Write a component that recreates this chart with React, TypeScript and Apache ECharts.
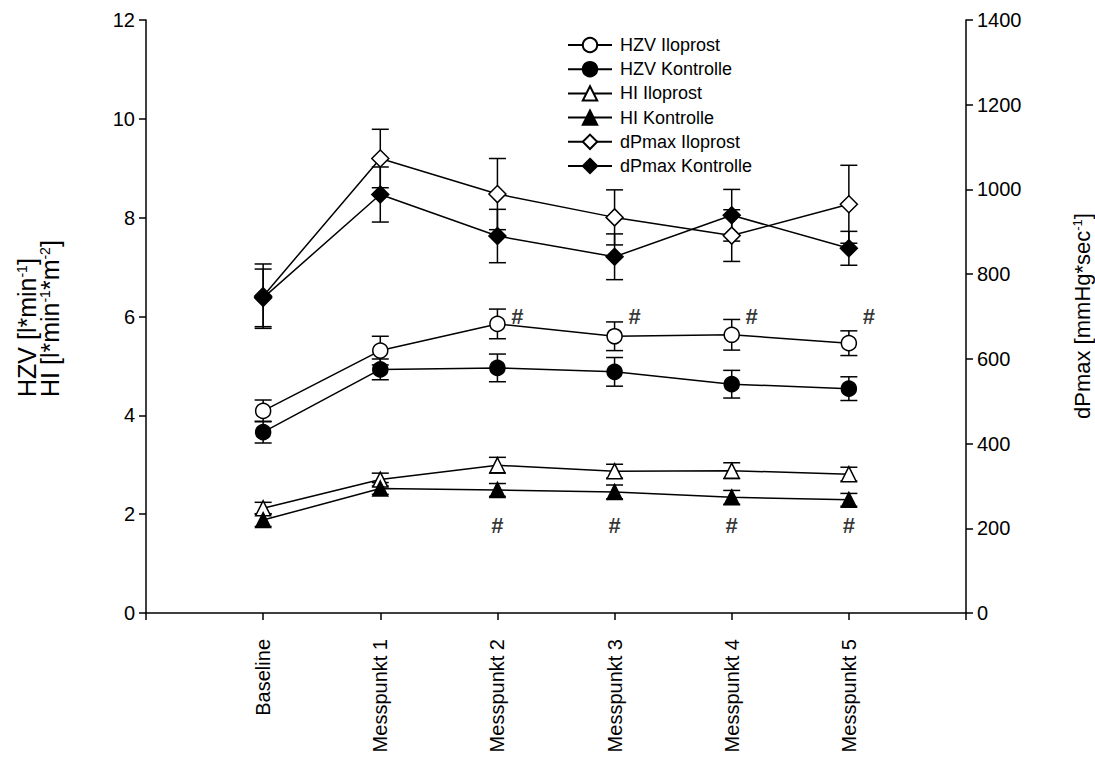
import React, { useEffect, useRef } from 'react';
import * as echarts from 'echarts';

// x categories (empty padding slots at both ends of the axis)
const categories = ['', 'Baseline', 'Messpunkt 1', 'Messpunkt 2', 'Messpunkt 3', 'Messpunkt 4', 'Messpunkt 5', ''];

// left axis: HZV / HI
const hzvIloprost = [4.09, 5.31, 5.85, 5.6, 5.63, 5.46];
const hzvIloprostErr = [0.22, 0.29, 0.3, 0.29, 0.31, 0.25];
const hzvKontrolle = [3.66, 4.93, 4.96, 4.88, 4.63, 4.54];
const hzvKontrolleErr = [0.22, 0.21, 0.28, 0.29, 0.28, 0.24];
const hiIloprost = [2.12, 2.7, 2.99, 2.87, 2.88, 2.81];
const hiIloprostErr = [0.12, 0.13, 0.16, 0.14, 0.16, 0.14];
const hiKontrolle = [1.88, 2.52, 2.49, 2.45, 2.34, 2.29];
const hiKontrolleErr = [0.13, 0.12, 0.13, 0.14, 0.14, 0.13];

// right axis: dPmax
const dpIloprost = [748, 1073, 989, 934, 891, 965];
const dpIloprostErr = [76, 69, 84, 65, 61, 92];
const dpKontrolle = [744, 988, 890, 841, 939, 861];
const dpKontrolleErr = [68, 65, 63, 54, 61, 40];

// significance marks "#" (value on left axis where the mark sits)
const sigUpper = [null, null, 6.0, 6.0, 6.0, 6.0];
const sigLower = [null, null, 1.78, 1.78, 1.78, 1.78];

const leftAxis = { min: 0, max: 12, interval: 2 };
const rightAxis = { min: 0, max: 1400, interval: 200 };

const FONT = 'Liberation Sans, Arial, sans-serif';

type Def = { name: string; values: number[]; err: number[]; symbol: string; filled: boolean; axis: number; size: number };

const defs: Def[] = [
  { name: 'HZV Iloprost', values: hzvIloprost, err: hzvIloprostErr, symbol: 'circle', filled: false, axis: 0, size: 15 },
  { name: 'HZV Kontrolle', values: hzvKontrolle, err: hzvKontrolleErr, symbol: 'circle', filled: true, axis: 0, size: 15 },
  { name: 'HI Iloprost', values: hiIloprost, err: hiIloprostErr, symbol: 'triangle', filled: false, axis: 0, size: 15 },
  { name: 'HI Kontrolle', values: hiKontrolle, err: hiKontrolleErr, symbol: 'triangle', filled: true, axis: 0, size: 15 },
  { name: 'dPmax Iloprost', values: dpIloprost, err: dpIloprostErr, symbol: 'diamond', filled: false, axis: 1, size: 17 },
  { name: 'dPmax Kontrolle', values: dpKontrolle, err: dpKontrolleErr, symbol: 'diamond', filled: true, axis: 1, size: 17 },
];

function errorSeries(d: Def) {
  return {
    type: 'custom',
    name: d.name + ' SEM',
    yAxisIndex: d.axis,
    z: 1,
    data: d.values.map((v, i) => [i + 1, v - d.err[i], v + d.err[i]]),
    encode: { x: 0, y: [1, 2] },
    renderItem: (params: any, api: any) => {
      const x = api.value(0);
      const lo = api.coord([x, api.value(1)]);
      const hi = api.coord([x, api.value(2)]);
      const hw = 8.5;
      const style = { stroke: '#000', lineWidth: 1.5 };
      return {
        type: 'group',
        children: [
          { type: 'line', shape: { x1: lo[0], y1: lo[1], x2: hi[0], y2: hi[1] }, style },
          { type: 'line', shape: { x1: lo[0] - hw, y1: lo[1], x2: lo[0] + hw, y2: lo[1] }, style },
          { type: 'line', shape: { x1: hi[0] - hw, y1: hi[1], x2: hi[0] + hw, y2: hi[1] }, style },
        ],
      };
    },
  };
}

function lineSeries(d: Def) {
  return {
    type: 'line',
    name: d.name,
    yAxisIndex: d.axis,
    z: 3,
    data: d.values.map((v, i) => [categories[i + 1], v]),
    symbol: d.symbol,
    symbolSize: d.size,
    showAllSymbol: true,
    lineStyle: { color: '#000', width: 1.5 },
    itemStyle: { color: d.filled ? '#000' : '#fff', borderColor: '#000', borderWidth: 1.5 },
    emphasis: { disabled: true },
  };
}

function hashSeries(name: string, vals: (number | null)[], dx: number) {
  return {
    type: 'scatter',
    name,
    yAxisIndex: 0,
    z: 4,
    symbolSize: 1,
    itemStyle: { color: 'rgba(0,0,0,0)' },
    data: vals.map((v, i) => (v == null ? null : [categories[i + 1], v])).filter((p) => p !== null),
    label: {
      show: true,
      position: 'inside',
      offset: [dx, 0],
      formatter: '#',
      color: '#000',
      fontSize: 22,
      fontWeight: 'bold',
      fontFamily: FONT,
    },
    emphasis: { disabled: true },
  };
}

export default function App() {
  const ref = useRef<HTMLDivElement>(null);
  useEffect(() => {
    document.body.style.margin = '0';
    const chart = echarts.init(ref.current!, undefined, { renderer: 'svg' });
    const axisLine = { show: true, lineStyle: { color: '#000', width: 1.5 } };
    const axisTick = { show: true, inside: false, length: 7, lineStyle: { color: '#000', width: 1.5 } };
    const axisLabel = { color: '#000', fontSize: 20, fontFamily: FONT, margin: 11, formatter: (v: number) => String(v) };
    const rich = (size: number, sup: number, lh: number) => ({
      n: { fontSize: size, fontFamily: FONT, fill: '#000', lineHeight: lh },
      s: { fontSize: sup, fontFamily: FONT, fill: '#000', verticalAlign: 'top', lineHeight: sup + 1 },
    });
    chart.setOption({
      animation: false,
      backgroundColor: '#fff',
      grid: { left: 146, right: 129, top: 20, bottom: 150 },
      legend: {
        data: defs.map((d) => d.name),
        orient: 'vertical',
        left: 567,
        top: 36,
        padding: 0,
        itemWidth: 44,
        itemHeight: 18,
        itemGap: 6.2,
        textStyle: { color: '#000', fontSize: 18, fontFamily: FONT, padding: [0, 0, 0, 3] },
        selectedMode: false,
      },
      xAxis: {
        type: 'category',
        data: categories,
        boundaryGap: false,
        axisLine,
        axisTick: { ...axisTick, interval: 0 },
        axisLabel: { color: '#000', fontFamily: FONT, fontSize: 20, rotate: 90, interval: 0, margin: 26 },
        splitLine: { show: false },
      },
      yAxis: [
        {
          type: 'value',
          position: 'left',
          ...leftAxis,
          axisLine,
          axisTick,
          axisLabel,
          splitLine: { show: false },
        },
        {
          type: 'value',
          position: 'right',
          ...rightAxis,
          axisLine,
          axisTick,
          axisLabel,
          splitLine: { show: false },
        },
      ],
      graphic: [
        {
          type: 'text',
          x: 38,
          y: 397,
          rotation: Math.PI / 2,
          style: {
            text: '{n|HZV [l*min}{s|-1}{n|]}\n{n|HI [l*min}{s|-1}{n|*m}{s|-2}{n|]}',
            rich: rich(25, 14, 23),
            align: 'left',
            verticalAlign: 'middle',
          },
        },
        {
          type: 'text',
          x: 1082,
          y: 316,
          rotation: Math.PI / 2,
          style: {
            text: '{n|dPmax [mmHg*sec}{s|-1}{n|]}',
            rich: rich(22, 13, 23),
            align: 'center',
            verticalAlign: 'middle',
          },
        },
      ],
      series: [
        ...defs.map(errorSeries),
        ...defs.map(lineSeries),
        hashSeries('sig upper', sigUpper, 20),
        hashSeries('sig lower', sigLower, 0),
      ],
    });
    return () => chart.dispose();
  }, []);
  return <div ref={ref} style={{ width: 1095, height: 763 }} />;
}
